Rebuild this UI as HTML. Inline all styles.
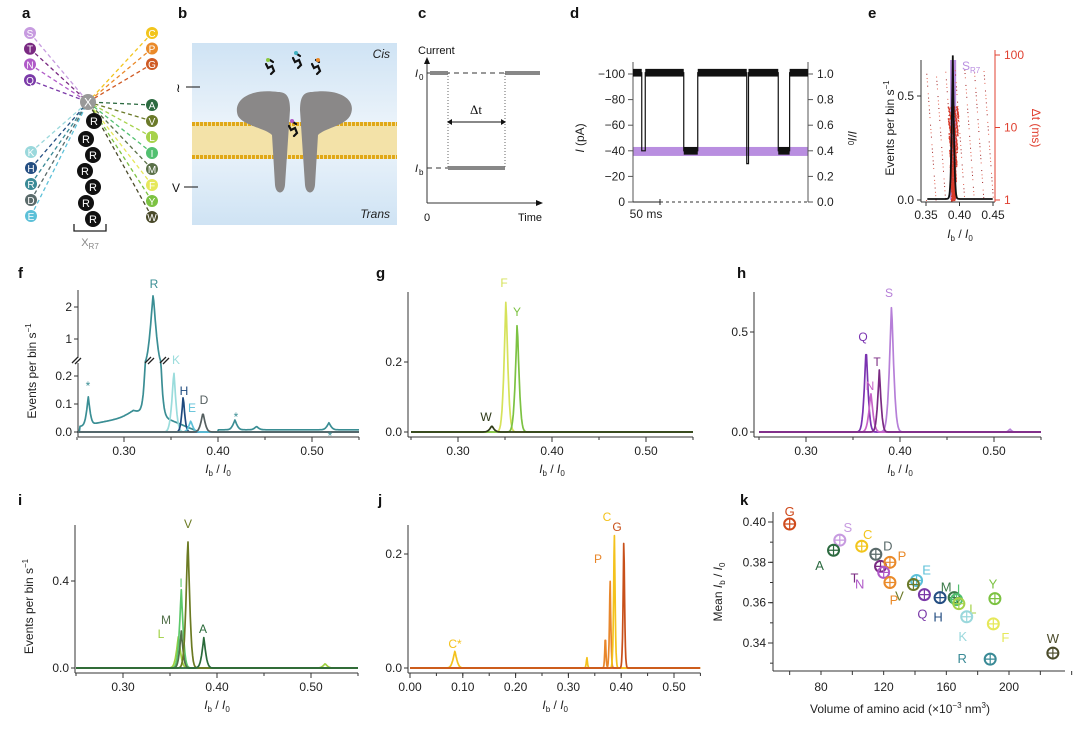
<!DOCTYPE html>
<html><head><meta charset="utf-8">
<style>
html,body{margin:0;padding:0;background:#fff}
svg{display:block;font-family:"Liberation Sans",sans-serif}
</style></head>
<body>
<svg id="fig" width="1080" height="729" viewBox="0 0 1080 729" xmlns="http://www.w3.org/2000/svg">
<defs>
<linearGradient id="bg" x1="0" y1="0" x2="0" y2="1"><stop offset="0" stop-color="#cfe3f4"/><stop offset="0.5" stop-color="#eef5fb"/><stop offset="1" stop-color="#cfe3f4"/></linearGradient>
</defs>
<g id="static">
<g font-weight="bold" font-size="15" fill="#111">
<text x="22" y="18">a</text>
<text x="178" y="18">b</text>
<text x="418" y="18">c</text>
<text x="570" y="18">d</text>
<text x="868" y="18">e</text>
<text x="18" y="278">f</text>
<text x="376" y="278">g</text>
<text x="737" y="278">h</text>
<text x="18" y="505">i</text>
<text x="378" y="505">j</text>
<text x="740" y="505">k</text>
</g>
<g>
<rect x="192" y="43" width="205" height="182" fill="url(#bg)"/>
<rect x="192" y="122" width="205" height="37" fill="#f3e2a8"/>
<line x1="192" y1="124" x2="397" y2="124" stroke="#e0a818" stroke-width="4" stroke-dasharray="3,1"/>
<line x1="192" y1="157" x2="397" y2="157" stroke="#e0a818" stroke-width="4" stroke-dasharray="3,1"/>
<path d="M278,92 C250,88 232,100 238,116 C244,126 265,128 272,135 L275,185 C276,195 284,195 285,185 L290,110 C290,96 286,92 278,92 Z" fill="#8a8888"/>
<path d="M312,92 C340,88 358,100 350,116 C344,126 325,128 318,135 L315,185 C314,195 306,195 305,185 L300,110 C300,96 304,92 312,92 Z" fill="#8a8888"/>
<text x="390" y="58" font-size="12" font-style="italic" text-anchor="end" fill="#222">Cis</text>
<text x="390" y="218" font-size="12" font-style="italic" text-anchor="end" fill="#222">Trans</text>
<g stroke="#111" stroke-width="2.2" fill="none" stroke-linecap="round">
<path d="M266,64 l2,4 l4,-2 l2,5 l-3,3 M270,60 l3,2"/>
<path d="M293,58 l2,4 l4,-2 l2,5 l-3,3 M297,54 l3,2"/>
<path d="M312,64 l2,4 l4,-2 l2,5 l-3,3 M316,60 l3,2"/>
<path d="M289,126 l2,4 l4,-2 l2,5 l-3,3 M293,122 l3,2"/>
</g>
<circle cx="268" cy="60" r="2" fill="#8ac840"/><circle cx="296" cy="53" r="2" fill="#40b0c0"/><circle cx="318" cy="60" r="2" fill="#ea8a2a"/><circle cx="292" cy="121" r="2" fill="#b05ac8"/>
<line x1="186" y1="87" x2="200" y2="87" stroke="#111"/><text x="176" y="92" font-size="12">≀</text>
<line x1="184" y1="187" x2="198" y2="187" stroke="#111"/><text x="172" y="192" font-size="12" fill="#111">V</text>
</g>
<g font-size="11" fill="#111">
<line x1="427" y1="203" x2="427" y2="62" stroke="#333"/><path d="M424,64 L427,57 L430,64Z" fill="#111"/>
<line x1="427" y1="203" x2="538" y2="203" stroke="#333"/><path d="M536,200 L543,203 L536,206Z" fill="#111"/>
<text x="418" y="54">Current</text>
<text x="415" y="77" font-style="italic">I</text><text x="419" y="80" font-size="8">0</text>
<text x="415" y="172" font-style="italic">I</text><text x="419" y="175" font-size="8">b</text>
<line x1="427" y1="73" x2="540" y2="73" stroke="#333" stroke-dasharray="5,4"/>
<line x1="427" y1="168" x2="448" y2="168" stroke="#333" stroke-dasharray="5,4"/>
<path d="M430,73 L448,73 M448,168 L505,168 M505,73 L540,73" stroke="#888" stroke-width="4"/>
<line x1="448" y1="73" x2="448" y2="168" stroke="#666" stroke-dasharray="1,2"/>
<line x1="505" y1="73" x2="505" y2="168" stroke="#666" stroke-dasharray="1,2"/>
<line x1="452" y1="122" x2="501" y2="122" stroke="#111"/><path d="M452,119 L447,122 L452,125Z M501,119 L506,122 L501,125Z" fill="#111"/>
<text x="476" y="114" text-anchor="middle" font-family="Liberation Serif" font-size="13">Δt</text>
<text x="427" y="221" text-anchor="middle">0</text><text x="530" y="221" text-anchor="middle">Time</text>
</g>
</g>
<g id="dyn"></g>
</svg>
<script>
// ===== data =====
var aLeftTop=["S","T","N","Q"], aLeftTopCol=["#c79be0","#7a2a82","#b05ac8","#7b3aa8"];
var aRightTop=["C","P","G"], aRightTopCol=["#f2c51c","#ea8a2a","#cf5a24"];
var aRight=["A","V","L","I","M","F","Y","W"], aRightCol=["#2c6a40","#6b7a2a","#a6d24a","#52c070","#5a7048","#e6e85a","#7cc242","#4a4a2a"];
var aLeft=["K","H","R","D","E"], aLeftCol=["#9ad8dc","#244e82","#3a8a96","#5a6a6a","#5cc0d8"];
var dTicksL=[-100,-80,-60,-40,-20,0], dTicksR=["1.0","0.8","0.6","0.4","0.2","0.0"];
var dEventStart=[5,29,65,83], dEventEnd=[7,37,66,89.5], dEventLevel=[-40,-40,-30,-40];
var eTicksX=[0.35,0.40,0.45], eTicksY=[0.0,0.5], eTicksR=[1,10,100];
var ePeakCenter=[0.39], ePeakHeight=[0.69], ePeakWidth=[0.0022];
var fTicksX=[0.30,0.40,0.50], fTicksLow=[0.0,0.1,0.2], fTicksHigh=[1,2];
var fSeries=["R","K","H","E","D"], fColors=["#3a8e94","#9adcdc","#1e4a7e","#5cc0d8","#555f60"];
var fCenters=[[0.331,0.262,0.31,0.418,0.441,0.518],[0.353],[0.363],[0.371],[0.384]];
var fHeights=[[2.35,0.1,0.02,0.035,0.012,0.025],[0.22],[0.13],[0.04],[0.07]];
var fWidths=[[0.0045,0.0025,0.01,0.003,0.003,0.003],[0.003],[0.0022],[0.003],[0.003]];
var fShoulder=[0.05,0,0,0,0];
var gTicksX=[0.30,0.40,0.50], gTicksY=[0.0,0.2];
var gSeries=["F","Y","W"], gColors=["#d6e25a","#7cc242","#2e3a18"];
var gCenters=[[0.351],[0.363],[0.336]], gHeights=[[0.39],[0.32],[0.018]], gWidths=[[0.0028],[0.0028],[0.003]];
var hTicksX=[0.30,0.40,0.50], hTicksY=[0.0,0.5];
var hSeries=["S","Q","N","T"], hColors=["#b67fd8","#7a32b0","#c864c8","#7a2a82"];
var hCenters=[[0.391,0.517],[0.364],[0.369],[0.378]], hHeights=[[0.65,0.015],[0.43],[0.2],[0.31]], hWidths=[[0.0032,0.002],[0.0028],[0.003],[0.0025]];
var iTicksX=[0.30,0.40,0.50], iTicksY=[0.0,0.4];
var iSeries=["L","I","M","V","A"], iColors=["#9ed040","#5cc86a","#52704a","#6b7a22","#2a6a3a"];
var iCenters=[[0.359,0.515],[0.362],[0.362],[0.369],[0.386]], iHeights=[[0.15,0.02],[0.36],[0.17],[0.61],[0.14]], iWidths=[[0.003,0.003],[0.0028],[0.0025],[0.0028],[0.0028]];
var jTicksX=[0.00,0.10,0.20,0.30,0.40,0.50], jTicksY=[0.0,0.2];
var jSeries=["P","C","G"], jColors=["#e8862a","#f4c21c","#c8501a"];
var jCenters=[[0.37,0.379],[0.387,0.085,0.335],[0.405]], jHeights=[[0.06,0.165],[0.25,0.03,0.02],[0.235]], jWidths=[[0.0015,0.0018],[0.002,0.005,0.0015],[0.002]];
var kTicksX=[80,120,160,200], kTicksY=[0.34,0.36,0.38,0.40];
var kNames=["G","S","A","C","D","T","P","N","P","E","V","Q","H","M","I","L","K","Y","F","R","W"];
var kVolume=[60,92,88,106,115,118,124,120,124,141,139,146,156,165,166.5,168,173,191,190,188,228];
var kMean=[0.399,0.391,0.386,0.388,0.384,0.378,0.380,0.375,0.370,0.371,0.369,0.364,0.3625,0.3625,0.3615,0.3595,0.353,0.362,0.3495,0.332,0.335];
var kColors=["#cf4a1c","#c79be0","#2c6a40","#f2c51c","#5a6a6a","#7a2a82","#ea8a2a","#b05ac8","#ea8a2a","#5cc0d8","#6b7a2a","#7b3aa8","#244e82","#3a7a48","#52c070","#a6d24a","#9ad8dc","#7cc242","#e6e85a","#3a8a96","#4a4a2a"];
var kLabelDx=[0,8,-14,6,12,-26,12,-24,4,10,-14,-2,-2,-8,2,14,-4,-2,12,-28,0];
var kLabelDy=[-12,-12,16,-11,-8,12,-6,12,18,-10,12,20,20,-10,-10,6,20,-14,14,0,-14];

// ===== helpers =====
var NS="http://www.w3.org/2000/svg", root=document.getElementById('dyn');
function mk(tag,attrs,parent){var e=document.createElementNS(NS,tag);for(var k in attrs)e.setAttribute(k,attrs[k]);(parent||root).appendChild(e);return e;}
function txt(x,y,s,size,anchor,fill,parent){var t=mk('text',{x:x,y:y,'font-size':size||11,'text-anchor':anchor||'middle',fill:fill||'#111'},parent);t.textContent=s;return t;}
function lin(d0,d1,r0,r1){return function(v){return r0+(v-d0)/(d1-d0)*(r1-r0);};}
function fmt(v,n){return v.toFixed(n);}
function gsum(x,c,h,w){var s=0;for(var k=0;k<c.length;k++){var z=(x-c[k])/w[k];s+=h[k]*Math.exp(-Math.abs(z)*0.7-z*z*0.35);}return s;}

function specPanel(name,xs,ys,yTicks,yDec,xTicks,xDec,series,colors,centers,heights,widths,x0,x1,leftX,topY,labels,xlab,ylab,shoulder){
  var g=mk('g',{});
  
  
  var by=ys(0)+5;
  mk('line',{x1:leftX,y1:topY,x2:leftX,y2:by,stroke:'#333','stroke-width':1},g);
  mk('line',{x1:leftX,y1:by,x2:xs(x1),y2:by,stroke:'#333','stroke-width':1},g);
  yTicks.forEach(function(t){var yy=ys(t);mk('line',{x1:leftX-4,y1:yy,x2:leftX,y2:yy,stroke:'#333'},g);txt(leftX-6,yy+4,fmt(t,yDec),12,'end','#222',g);});
  for(var v=x0;v<=x1+1e-9;v+=0.05){var xx=xs(v);mk('line',{x1:xx,y1:by,x2:xx,y2:by+3,stroke:'#333'},g);}
  xTicks.forEach(function(t){var xx=xs(t);mk('line',{x1:xx,y1:by,x2:xx,y2:by+5,stroke:'#333'},g);txt(xx,by+18,fmt(t,xDec),12,'middle','#222',g);});
  if(xlab){var xl=txt((xs(x0)+xs(x1))/2,by+36,'',12,'middle','#222',g);xl.innerHTML='<tspan font-style="italic">I</tspan><tspan font-size="8" dy="3">b</tspan><tspan dy="-3"> / </tspan><tspan font-style="italic">I</tspan><tspan font-size="8" dy="3">0</tspan>';}
  if(ylab){var yl=txt(0,0,'',12,'middle','#222',g);yl.setAttribute('transform','translate('+(leftX-42)+','+((ys(0)+topY)/2+10)+') rotate(-90)');yl.innerHTML='Events per bin s<tspan font-size="8" dy="-5">−1</tspan>';}
  series.forEach(function(s,si){
    var pts=[];
    for(var x=x0;x<=x1+1e-9;x+=0.0008){
      var val=gsum(x,centers[si],heights[si],widths[si]);
      if(shoulder&&shoulder[si]){var sh=shoulder[si];if(x>0.253&&x<0.33)val+=0.02+sh*(x-0.253)/0.077;if(x>=0.33&&x<0.4)val+=Math.max(0,(0.02+sh)*(1-(x-0.33)/0.05));if(x>=0.4)val+=0.008;}
      pts.push(xs(x).toFixed(1)+','+ys(val).toFixed(1));
    }
    var p=mk('polyline',{points:pts.join(' '),fill:'none',stroke:colors[si],'stroke-width':1.7,'stroke-linejoin':'round'},g);
    
    
  });
  (labels||[]).forEach(function(L){txt(L[0],L[1],L[2],12,'middle',L[3],g);});
  return g;
}

// ===== panel a =====
(function(){
  var g=mk('g',{});
  
  
  var X=[88,102];
  function circ(x,y,s,col,r,fs){mk('circle',{cx:x,cy:y,r:r,fill:col},g);txt(x,y+fs/2.8,s,fs,'middle','#fff',g);}
  function lbl(arr,cols,x,y0,dy){arr.forEach(function(s,i){var y=y0+i*dy;mk('line',{x1:x,y1:y,x2:X[0],y2:X[1],stroke:cols[i],'stroke-width':1.3,'stroke-dasharray':'4,3'},g);var c=mk('circle',{cx:x,cy:y,r:6,fill:cols[i]},g);txt(x,y+4,s,10,'middle','#fff',g);});}
  lbl(aLeftTop,aLeftTopCol,30,33,15.7);
  lbl(aRightTop,aRightTopCol,152,33,15.5);
  lbl(aRight,aRightCol,152,105,16);
  lbl(aLeft,aLeftCol,31,152,16);
  circ(X[0],X[1],'X','#999',8,12);
  [[94,121],[86,139],[93,155],[85,171],[93,187],[86,203],[93,219]].forEach(function(p){circ(p[0],p[1],'R','#111',8,11);});
  mk('path',{d:'M74,224 L74,231 L106,231 L106,224',fill:'none',stroke:'#222','stroke-width':1.3},g);
  var t=txt(90,246,'',11,'middle','#888',g);t.innerHTML='X<tspan font-size="8" dy="3">R7</tspan>';
})();

// ===== panel d =====
(function(){
  var g=mk('g',{});
  
  
  var ys=lin(0,-100,202,74), xs=lin(0,100,633,808);
  mk('rect',{x:633,y:ys(-43),width:175,height:ys(-36)-ys(-43),fill:'#b98ee0'},g);
  mk('line',{x1:633,y1:62,x2:633,y2:202,stroke:'#555'},g);
  mk('line',{x1:808,y1:62,x2:808,y2:202,stroke:'#555'},g);
  dTicksL.forEach(function(t,i){var y=ys(t);mk('line',{x1:628,y1:y,x2:633,y2:y,stroke:'#555'},g);txt(625,y+4,t===0?'0':'−'+Math.abs(t),12,'end','#222',g);mk('line',{x1:808,y1:y,x2:813,y2:y,stroke:'#555'},g);txt(817,y+4,dTicksR[i],12,'start','#222',g);});
  mk('line',{x1:633,y1:202,x2:660,y2:202,stroke:'#222'},g);mk('line',{x1:660,y1:199,x2:660,y2:205,stroke:'#222'},g);
  mk('line',{x1:660,y1:202,x2:808,y2:202,stroke:'#333','stroke-dasharray':'3,3'},g);
  txt(646,218,'50 ms',12,'middle','#222',g);
  var yl=txt(0,0,'',12,'middle','#222',g);yl.setAttribute('transform','translate(584,138) rotate(-90)');yl.innerHTML='<tspan font-style="italic">I</tspan> (pA)';
  var yr=txt(0,0,'',12,'middle','#222',g);yr.setAttribute('transform','translate(848,138) rotate(90)');yr.innerHTML='<tspan font-style="italic">I</tspan>/<tspan font-style="italic">I</tspan><tspan font-size="8">0</tspan>';
  var d='M'+xs(0)+','+ys(-101);
  dEventStart.forEach(function(s,i){d+=' L'+xs(s)+','+ys(-101)+' L'+xs(s)+','+ys(dEventLevel[i])+' L'+xs(dEventEnd[i])+','+ys(dEventLevel[i])+' L'+xs(dEventEnd[i])+','+ys(-101);});
  d+=' L'+xs(100)+','+ys(-101);
  var p=mk('path',{d:d,fill:'none',stroke:'#111','stroke-width':1.2},g);
  
  
  var segs=[[0,dEventStart[0]]];for(var i=0;i<dEventStart.length;i++){segs.push([dEventEnd[i],i+1<dEventStart.length?dEventStart[i+1]:100]);}
  segs.forEach(function(s){mk('rect',{x:xs(s[0]),y:ys(-104),width:xs(s[1])-xs(s[0]),height:ys(-98)-ys(-104),fill:'#111'},g);});
  dEventStart.forEach(function(s,i){if(dEventEnd[i]-s>3)mk('rect',{x:xs(s),y:ys(dEventLevel[i]-3),width:xs(dEventEnd[i])-xs(s),height:ys(dEventLevel[i]+3)-ys(dEventLevel[i]-3),fill:'#111'},g);});
})();

// ===== panel e =====
(function(){
  var g=mk('g',{});
  
  
  var xs=lin(0.35,0.45,926,993), ys=lin(0,0.5,200,96), yr=function(v){return 200-Math.log10(v)*72.5;};
  mk('rect',{x:xs(0.386),y:60,width:xs(0.395)-xs(0.386),height:140,fill:'#b98ee0'},g);
  var sc=mk('g',{fill:'#d83a2a'},g);
  
  
  for(var i=0;i<200;i++){var u=(i*0.61803)%1, w=(i*0.38197*7)%1;var xv=0.35+u*0.1;var tv=Math.pow(10,w*1.8);mk('rect',{x:xs(xv),y:yr(tv),width:1,height:1,fill:i%2?'#a02020':'#e06050'},sc);}
  for(var j=0;j<400;j++){var u2=(j*0.61803)%1, w2=(j*0.7548)%1;var xv2=0.39+(u2-0.5)*0.011*(0.5+w2);var tv2=Math.pow(10,w2*1.3);mk('rect',{x:xs(xv2),y:yr(tv2),width:1.5,height:1.5},sc);}
  mk('line',{x1:921,y1:60,x2:921,y2:202,stroke:'#333'},g);
  mk('line',{x1:921,y1:202,x2:995,y2:202,stroke:'#333'},g);
  mk('line',{x1:995,y1:50,x2:995,y2:202,stroke:'#e04030'},g);
  eTicksY.forEach(function(t){var y=ys(t);mk('line',{x1:917,y1:y,x2:921,y2:y,stroke:'#333'},g);txt(914,y+4,fmt(t,1),12,'end','#222',g);});
  eTicksR.forEach(function(t){var y=yr(t);mk('line',{x1:995,y1:y,x2:1000,y2:y,stroke:'#e04030'},g);txt(1004,y+4,String(t),12,'start','#e04030',g);});
  eTicksX.forEach(function(t){var x=xs(t);mk('line',{x1:x,y1:202,x2:x,y2:206,stroke:'#333'},g);txt(x,219,fmt(t,2),12,'middle','#222',g);});
  var pts=[];for(var x=0.352;x<=0.45;x+=0.0005){pts.push(xs(x).toFixed(1)+','+ys(0.005+gsum(x,ePeakCenter,ePeakHeight,ePeakWidth)).toFixed(1));}
  var p=mk('polyline',{points:pts.join(' '),fill:'none',stroke:'#111','stroke-width':1.8},g);
  
  
  var yl=txt(0,0,'',12,'middle','#222',g);yl.setAttribute('transform','translate(894,128) rotate(-90)');yl.innerHTML='Events per bin s<tspan font-size="8" dy="-5">−1</tspan>';
  var y2=txt(0,0,'Δt (ms)',12,'middle','#e04030',g);y2.setAttribute('transform','translate(1032,128) rotate(90)');
  var s=txt(962,70,'',12,'start','#b98ee0',g);s.innerHTML='S<tspan font-size="8" dy="3">R7</tspan>';
  var xl=txt(960,238,'',12,'middle','#222',g);xl.innerHTML='<tspan font-style="italic">I</tspan><tspan font-size="8" dy="3">b</tspan><tspan dy="-3"> / </tspan><tspan font-style="italic">I</tspan><tspan font-size="8" dy="3">0</tspan>';
})();

// ===== panel f =====
(function(){
  var xs=lin(0.25,0.55,77,359);
  var ys=function(v){if(v<=0.25)return 432-280*v;if(v<0.5)return 362-(v-0.25)*28;return 371-32*v;};
  var g=specPanel('panel-f-spectra',xs,ys,[],1,fTicksX,2,fSeries,fColors,fCenters,fHeights,fWidths,0.25,0.55,78,290,[[154,288,'R','#3a8e94'],[176,364,'K','#9adcdc'],[184,395,'H','#1e4a7e'],[192,412,'E','#5cc0d8'],[204,404,'D','#555f60'],[88,390,'*','#3a8e94'],[236,421,'*','#3a8e94'],[330,440,'*','#3a8e94']],true,true,fShoulder);
  fTicksLow.forEach(function(t){var y=ys(t);mk('line',{x1:74,y1:y,x2:78,y2:y,stroke:'#333'},g);txt(72,y+4,fmt(t,1),12,'end','#222',g);});
  fTicksHigh.forEach(function(t){var y=ys(t);mk('line',{x1:74,y1:y,x2:78,y2:y,stroke:'#333'},g);txt(72,y+4,String(t),12,'end','#222',g);});
  mk('rect',{x:72,y:358,width:12,height:5,fill:'#fff'},g);
  mk('path',{d:'M72,363 l6,-6 M75,364 l6,-6 M145,363 l6,-6 M148,364 l6,-6 M160,363 l6,-6 M163,364 l6,-6',stroke:'#222','stroke-width':1.3},g);
})();
specPanel('panel-g-spectra',lin(0.25,0.55,411,693),lin(0,0.2,432,362),gTicksY,1,gTicksX,2,gSeries,gColors,gCenters,gHeights,gWidths,0.25,0.55,408,292,[[504,287,'F','#d6e25a'],[517,316,'Y','#7cc242'],[486,421,'W','#2e3a18']],true,false);
specPanel('panel-h-spectra',lin(0.25,0.55,759,1041),lin(0,0.5,432,332),hTicksY,1,hTicksX,2,hSeries,hColors,hCenters,hHeights,hWidths,0.25,0.55,754,292,[[889,297,'S','#b67fd8'],[863,341,'Q','#7a32b0'],[877,366,'T','#7a2a82'],[870,390,'N','#c864c8']],true,false);
specPanel('panel-i-spectra',lin(0.25,0.55,76,358),lin(0,0.4,668,581),iTicksY,1,iTicksX,2,iSeries,iColors,iCenters,iHeights,iWidths,0.25,0.55,75,525,[[188,528,'V','#6b7a22'],[181,587,'I','#5cc86a'],[166,624,'M','#52704a'],[161,638,'L','#9ed040'],[203,633,'A','#2a6a3a']],true,true);
specPanel('panel-j-spectra',lin(0,0.5,410,674),lin(0,0.2,668,554),jTicksY,1,jTicksX,2,jSeries,jColors,jCenters,jHeights,jWidths,0,0.55,408,525,[[607,521,'C','#f4c21c'],[617,531,'G','#c8501a'],[598,563,'P','#e8862a'],[455,648,'C*','#f4c21c']],true,false);

// ===== panel k =====
(function(){
  var g=mk('g',{});
  
  
  var xs=lin(80,200,821,1009), ys=lin(0.34,0.40,643,522);
  mk('line',{x1:773,y1:512,x2:773,y2:671,stroke:'#333'},g);
  mk('line',{x1:773,y1:671,x2:1065,y2:671,stroke:'#333'},g);
  kTicksY.forEach(function(t){var y=ys(t);mk('line',{x1:768,y1:y,x2:773,y2:y,stroke:'#333'},g);txt(766,y+4,fmt(t,2),12,'end','#222',g);});
  for(var v=0.33;v<=0.405;v+=0.01){mk('line',{x1:770,y1:ys(v),x2:773,y2:ys(v),stroke:'#333'},g);}
  for(var u=60;u<=240;u+=20){mk('line',{x1:xs(u),y1:671,x2:xs(u),y2:675,stroke:'#333'},g);}
  kTicksX.forEach(function(t){txt(xs(t),691,String(t),12,'middle','#222',g);});
  var xl=txt(900,713,'',12,'middle','#222',g);xl.innerHTML='Volume of amino acid (×10<tspan font-size="8" dy="-5">−3</tspan><tspan dy="5"> nm</tspan><tspan font-size="8" dy="-5">3</tspan><tspan dy="5">)</tspan>';
  var yl=txt(0,0,'',12,'middle','#222',g);yl.setAttribute('transform','translate(722,592) rotate(-90)');yl.innerHTML='Mean <tspan font-style="italic">I</tspan><tspan font-size="8" dy="3">b</tspan><tspan dy="-3"> / </tspan><tspan font-style="italic">I</tspan><tspan font-size="8" dy="3">0</tspan>';
  kNames.forEach(function(n,i){
    var x=xs(kVolume[i]), y=ys(kMean[i]);
    var c=mk('circle',{cx:x,cy:y,r:5.5,fill:'none',stroke:kColors[i],'stroke-width':2},g);
    
    
    mk('path',{d:'M'+(x-5)+','+y+' h10 M'+x+','+(y-5)+' v10',stroke:kColors[i],'stroke-width':1.2},g);
    txt(x+kLabelDx[i],y+kLabelDy[i]+4,n,13,'middle',kColors[i],g);
  });
})();
</script>
</body></html>
